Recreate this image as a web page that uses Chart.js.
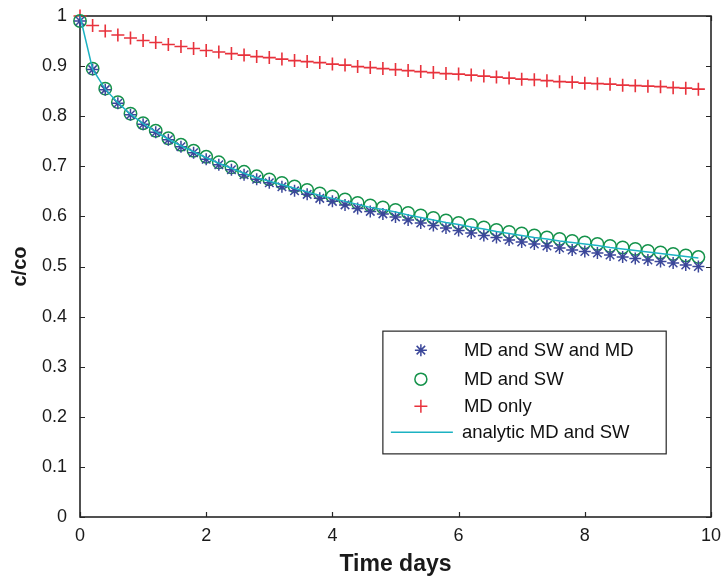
<!DOCTYPE html>
<html>
<head>
<meta charset="utf-8">
<script src="https://cdn.jsdelivr.net/npm/chart.js@4.4.0/dist/chart.umd.min.js"></script>
<style>
html, body { margin: 0; padding: 0; background: #fff; }
</style>
</head>
<body>
<canvas id="myChart" width="721" height="581"></canvas>
<script>
let timeDays = [0, 0.2, 0.4, 0.6, 0.8, 1, 1.2, 1.4, 1.6, 1.8,
    2, 2.2, 2.4, 2.6, 2.8, 3, 3.2, 3.4, 3.6, 3.8,
    4, 4.2, 4.4, 4.6, 4.8, 5, 5.2, 5.4, 5.6, 5.8,
    6, 6.2, 6.4, 6.6, 6.8, 7, 7.2, 7.4, 7.6, 7.8,
    8, 8.2, 8.4, 8.6, 8.8, 9, 9.2, 9.4, 9.6, 9.8];

let mdSwMd = [0.990, 0.893, 0.853, 0.826, 0.803, 0.784, 0.768, 0.753, 0.739, 0.727,
    0.714, 0.703, 0.693, 0.683, 0.674, 0.667, 0.659, 0.651, 0.644, 0.636,
    0.630, 0.623, 0.616, 0.610, 0.605, 0.599, 0.593, 0.587, 0.582, 0.577,
    0.572, 0.567, 0.562, 0.558, 0.553, 0.549, 0.545, 0.541, 0.537, 0.533,
    0.530, 0.527, 0.523, 0.519, 0.516, 0.513, 0.510, 0.507, 0.503, 0.500];

let mdSw = [0.990, 0.895, 0.855, 0.828, 0.805, 0.786, 0.771, 0.756, 0.743, 0.731,
    0.719, 0.708, 0.698, 0.689, 0.680, 0.674, 0.667, 0.660, 0.653, 0.646,
    0.640, 0.634, 0.627, 0.622, 0.618, 0.613, 0.607, 0.602, 0.597, 0.592,
    0.587, 0.583, 0.578, 0.573, 0.569, 0.566, 0.562, 0.558, 0.555, 0.551,
    0.548, 0.545, 0.541, 0.538, 0.535, 0.531, 0.528, 0.525, 0.522, 0.519];

let mdOnly = [1.000, 0.981, 0.970, 0.962, 0.956, 0.951, 0.947, 0.943, 0.939, 0.935,
    0.931, 0.928, 0.925, 0.922, 0.919, 0.917, 0.914, 0.911, 0.909, 0.907,
    0.904, 0.902, 0.899, 0.897, 0.895, 0.893, 0.891, 0.889, 0.887, 0.885,
    0.884, 0.882, 0.880, 0.878, 0.876, 0.874, 0.873, 0.871, 0.869, 0.868,
    0.866, 0.865, 0.864, 0.862, 0.861, 0.860, 0.859, 0.857, 0.856, 0.854];

let analytic = [1.000, 0.894, 0.854, 0.827, 0.804, 0.785, 0.769, 0.754, 0.741, 0.729,
    0.717, 0.706, 0.696, 0.686, 0.677, 0.670, 0.663, 0.656, 0.649, 0.642,
    0.636, 0.630, 0.624, 0.618, 0.614, 0.609, 0.603, 0.598, 0.593, 0.588,
    0.584, 0.579, 0.575, 0.570, 0.566, 0.562, 0.558, 0.555, 0.551, 0.548,
    0.545, 0.542, 0.538, 0.535, 0.532, 0.529, 0.526, 0.523, 0.520, 0.517];

let xTicks = [0, 2, 4, 6, 8, 10];
let xTickLabels = ['0', '2', '4', '6', '8', '10'];
let yTicks = [0, 0.1, 0.2, 0.3, 0.4, 0.5, 0.6, 0.7, 0.8, 0.9, 1];
let yTickLabels = ['0', '0.1', '0.2', '0.3', '0.4', '0.5', '0.6', '0.7', '0.8', '0.9', '1'];

let seriesNames = ['MD and SW and MD', 'MD and SW', 'MD only', 'analytic MD and SW'];

let blue = '#3b479a';
let green = '#14924a';
let red = '#e8323c';
let cyan = '#1cb2c2';
let axisColor = '#262626';
let fontFamily = 'Arial, "Liberation Sans", Helvetica, sans-serif';

function toPoints(values) {
    let pts = [];
    for (let i = 0; i < timeDays.length; i++) {
        pts.push({ x: timeDays[i], y: values[i] });
    }
    return pts;
}

// box round the plot with inward ticks, like the original
let framePlugin = {
    id: 'frame',
    beforeDatasetsDraw(chart) {
        let ctx = chart.ctx;
        let a = chart.chartArea;
        let xs = chart.scales.x;
        let ys = chart.scales.y;
        let len = 5;
        ctx.save();
        ctx.strokeStyle = axisColor;
        ctx.lineWidth = 1.2;
        ctx.beginPath();
        for (let i = 0; i < xTicks.length; i++) {
            let px = Math.round(xs.getPixelForValue(xTicks[i])) + 0.5;
            ctx.moveTo(px, a.bottom);
            ctx.lineTo(px, a.bottom - len);
            ctx.moveTo(px, a.top);
            ctx.lineTo(px, a.top + len);
        }
        for (let i = 0; i < yTicks.length; i++) {
            let py = Math.round(ys.getPixelForValue(yTicks[i])) + 0.5;
            ctx.moveTo(a.left, py);
            ctx.lineTo(a.left + len, py);
            ctx.moveTo(a.right, py);
            ctx.lineTo(a.right - len, py);
        }
        ctx.stroke();
        ctx.lineWidth = 1.6;
        ctx.strokeRect(a.left, a.top, a.right - a.left, a.bottom - a.top);
        ctx.restore();
    }
};

function drawMarker(ctx, kind, x, y) {
    ctx.beginPath();
    if (kind === 'star') {
        let r = 6;
        for (let k = 0; k < 4; k++) {
            let ang = k * Math.PI / 4;
            ctx.moveTo(x - r * Math.cos(ang), y - r * Math.sin(ang));
            ctx.lineTo(x + r * Math.cos(ang), y + r * Math.sin(ang));
        }
    } else if (kind === 'circle') {
        ctx.arc(x, y, 6, 0, Math.PI * 2);
    } else if (kind === 'cross') {
        ctx.moveTo(x - 6.5, y);
        ctx.lineTo(x + 6.5, y);
        ctx.moveTo(x, y - 6.5);
        ctx.lineTo(x, y + 6.5);
    }
    ctx.stroke();
}

let legendPlugin = {
    id: 'boxLegend',
    afterDraw(chart) {
        let ctx = chart.ctx;
        let a = chart.chartArea;
        let w = a.right - a.left;
        let h = a.bottom - a.top;
        let left = a.left + w * 0.48;
        let right = a.left + w * 0.929;
        let top = a.top + h * 0.629;
        let bottom = a.top + h * 0.874;
        ctx.save();
        ctx.fillStyle = '#fff';
        ctx.fillRect(left, top, right - left, bottom - top);
        ctx.strokeStyle = axisColor;
        ctx.lineWidth = 1.2;
        ctx.strokeRect(left, top, right - left, bottom - top);

        let rows = [19, 48, 75, 101];
        let kinds = ['star', 'circle', 'cross', 'line'];
        let colors = [blue, green, red, cyan];
        ctx.font = '18.5px ' + fontFamily;
        ctx.textBaseline = 'middle';
        ctx.textAlign = 'left';
        for (let i = 0; i < rows.length; i++) {
            let y = top + rows[i];
            ctx.strokeStyle = colors[i];
            ctx.lineWidth = 1.5;
            if (kinds[i] === 'line') {
                ctx.beginPath();
                ctx.moveTo(left + 8, y);
                ctx.lineTo(left + 70, y);
                ctx.stroke();
                ctx.fillStyle = '#111';
                ctx.fillText(seriesNames[i], left + 79, y + 1);
            } else {
                drawMarker(ctx, kinds[i], left + 38, y);
                ctx.fillStyle = '#111';
                ctx.fillText(seriesNames[i], left + 81, y + 1);
            }
        }
        ctx.restore();
    }
};

let ctx = document.getElementById('myChart').getContext('2d');
let chart = new Chart(ctx, {
    type: 'line',
    data: {
        datasets: [{
            label: seriesNames[0],
            data: toPoints(mdSwMd),
            showLine: false,
            clip: false,
            pointStyle: 'star',
            pointRadius: 6,
            pointBorderWidth: 1.5,
            pointBorderColor: blue,
            pointBackgroundColor: blue,
            borderColor: blue,
            order: 1
        }, {
            label: seriesNames[1],
            data: toPoints(mdSw),
            showLine: false,
            clip: false,
            pointStyle: 'circle',
            pointRadius: 6.2,
            pointBorderWidth: 1.5,
            pointBorderColor: green,
            pointBackgroundColor: 'rgba(0,0,0,0)',
            borderColor: green,
            order: 2
        }, {
            label: seriesNames[2],
            data: toPoints(mdOnly),
            showLine: false,
            clip: false,
            pointStyle: 'cross',
            pointRadius: 6.5,
            pointBorderWidth: 1.6,
            pointBorderColor: red,
            borderColor: red,
            order: 3
        }, {
            label: seriesNames[3],
            data: toPoints(analytic),
            clip: false,
            borderColor: cyan,
            borderWidth: 1.5,
            pointRadius: 0,
            tension: 0,
            fill: false,
            order: 0
        }]
    },
    options: {
        responsive: false,
        animation: false,
        devicePixelRatio: 1,
        layout: { padding: { left: 0, right: 10, top: 16, bottom: 0 } },
        plugins: {
            legend: { display: false },
            tooltip: { enabled: false }
        },
        scales: {
            x: {
                type: 'linear',
                min: 0,
                max: 10,
                afterBuildTicks: s => { s.ticks = xTicks.map(v => ({ value: v })); },
                afterFit: s => {
                    s.height = 64;
                    s.paddingLeft = 0;
                    s.paddingRight = 0;
                },
                grid: { display: false, drawTicks: false },
                border: { display: false },
                ticks: {
                    padding: 8,
                    color: '#1a1a1a',
                    font: { family: fontFamily, size: 18 },
                    callback: (v, i) => xTickLabels[i]
                },
                title: {
                    display: true,
                    text: 'Time days',
                    color: '#1a1a1a',
                    font: { family: fontFamily, size: 23, weight: 'bold' },
                    padding: { top: 0, bottom: 3 }
                }
            },
            y: {
                type: 'linear',
                min: 0,
                max: 1,
                afterBuildTicks: s => { s.ticks = yTicks.map(v => ({ value: v })); },
                afterFit: s => {
                    s.width = 80;
                    s.paddingTop = 0;
                    s.paddingBottom = 0;
                },
                grid: { display: false, drawTicks: false },
                border: { display: false },
                ticks: {
                    padding: 13,
                    color: '#1a1a1a',
                    font: { family: fontFamily, size: 18 },
                    callback: (v, i) => yTickLabels[i]
                },
                title: {
                    display: true,
                    text: 'c/co',
                    color: '#1a1a1a',
                    font: { family: fontFamily, size: 20, weight: 'bold' },
                    padding: { top: 8, bottom: 0 }
                }
            }
        }
    },
    plugins: [framePlugin, legendPlugin]
});
</script>
</body>
</html>
